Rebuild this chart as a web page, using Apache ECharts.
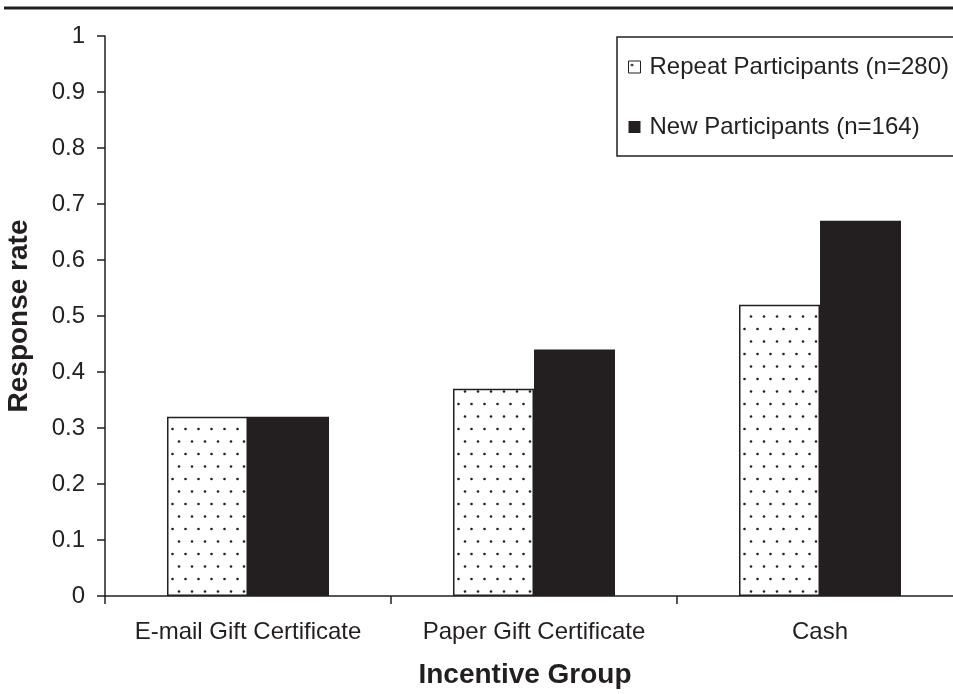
<!DOCTYPE html>
<html>
<head>
<meta charset="utf-8">
<script src="https://cdn.jsdelivr.net/npm/echarts@6/dist/echarts.min.js"></script>
<style>
  html, body { margin: 0; padding: 0; background: #fff; }
  #chart { width: 953px; height: 694px; }
</style>
</head>
<body>
<div id="chart"></div>
<script>
const categories = ['E-mail Gift Certificate', 'Paper Gift Certificate', 'Cash'];
const seriesNames = ['Repeat Participants (n=280)', 'New Participants (n=164)'];
const repeatValues = [0.32, 0.37, 0.52];
const newValues = [0.32, 0.44, 0.67];
const yTicks = { min: 0, max: 1, interval: 0.1 };

const ink = '#231f20';
const font = '"Liberation Sans", Arial, Helvetica, sans-serif';

// dotted fill pattern
const pc = document.createElement('canvas');
pc.width = 13; pc.height = 25;
const pctx = pc.getContext('2d');
pctx.fillStyle = '#fff';
pctx.fillRect(0, 0, 13, 25);
pctx.fillStyle = ink;
pctx.beginPath(); pctx.arc(3.5, 4, 1.3, 0, Math.PI * 2); pctx.fill();
pctx.beginPath(); pctx.arc(10, 16.5, 1.3, 0, Math.PI * 2); pctx.fill();
const dotPattern = { image: pc, repeat: 'repeat' };

const chart = echarts.init(document.getElementById('chart'), null, { renderer: 'canvas' });
chart.setOption({
  animation: false,
  backgroundColor: '#fff',
  textStyle: { fontFamily: font, color: ink },
  graphic: [{
    type: 'line',
    shape: { x1: 4, y1: 8, x2: 953, y2: 8 },
    style: { stroke: ink, lineWidth: 3 }
  }],
  legend: {
    orient: 'vertical',
    left: 617,
    top: 37,
    padding: [18, 30, 17, 11],
    itemGap: 36,
    itemWidth: 12,
    itemHeight: 12,
    icon: 'rect',
    borderColor: ink,
    borderWidth: 1.5,
    textStyle: { fontSize: 24, color: ink, fontFamily: font, padding: [0, 0, 0, 4] },
    data: [
      { name: seriesNames[0], itemStyle: { color: dotPattern, borderColor: ink, borderWidth: 1 } },
      { name: seriesNames[1], itemStyle: { color: ink } }
    ]
  },
  grid: { left: 105, top: 36, bottom: 98, width: 858, containLabel: false, outerBoundsMode: 'none' },
  xAxis: {
    type: 'category',
    data: categories,
    name: 'Incentive Group',
    nameLocation: 'middle',
    nameGap: 65,
    nameTextStyle: { fontSize: 28, fontWeight: 'bold', color: ink, fontFamily: font, padding: [0, 18, 0, 0] },
    axisLine: { lineStyle: { color: ink, width: 1.5 } },
    axisTick: { show: true, length: 8, lineStyle: { color: ink, width: 1.5 } },
    axisLabel: { fontSize: 24, color: ink, margin: 24, fontFamily: font, interval: 0, hideOverlap: false }
  },
  yAxis: {
    type: 'value',
    min: yTicks.min,
    max: yTicks.max,
    interval: yTicks.interval,
    name: 'Response rate',
    nameLocation: 'middle',
    nameGap: 72,
    nameTextStyle: { fontSize: 28, fontWeight: 'bold', color: ink, fontFamily: font },
    axisLine: { show: true, lineStyle: { color: ink, width: 1.5 } },
    axisTick: { show: true, length: 8, lineStyle: { color: ink, width: 1.5 } },
    splitLine: { show: false },
    axisLabel: { fontSize: 24, color: ink, margin: 20, fontFamily: font }
  },
  series: [
    {
      name: seriesNames[0],
      type: 'bar',
      data: repeatValues,
      barWidth: 81,
      barGap: '0%',
      itemStyle: { color: dotPattern, borderColor: ink, borderWidth: 1.5 }
    },
    {
      name: seriesNames[1],
      type: 'bar',
      data: newValues,
      barWidth: 81,
      barGap: '0%',
      itemStyle: { color: ink }
    }
  ]
});
</script>
</body>
</html>
